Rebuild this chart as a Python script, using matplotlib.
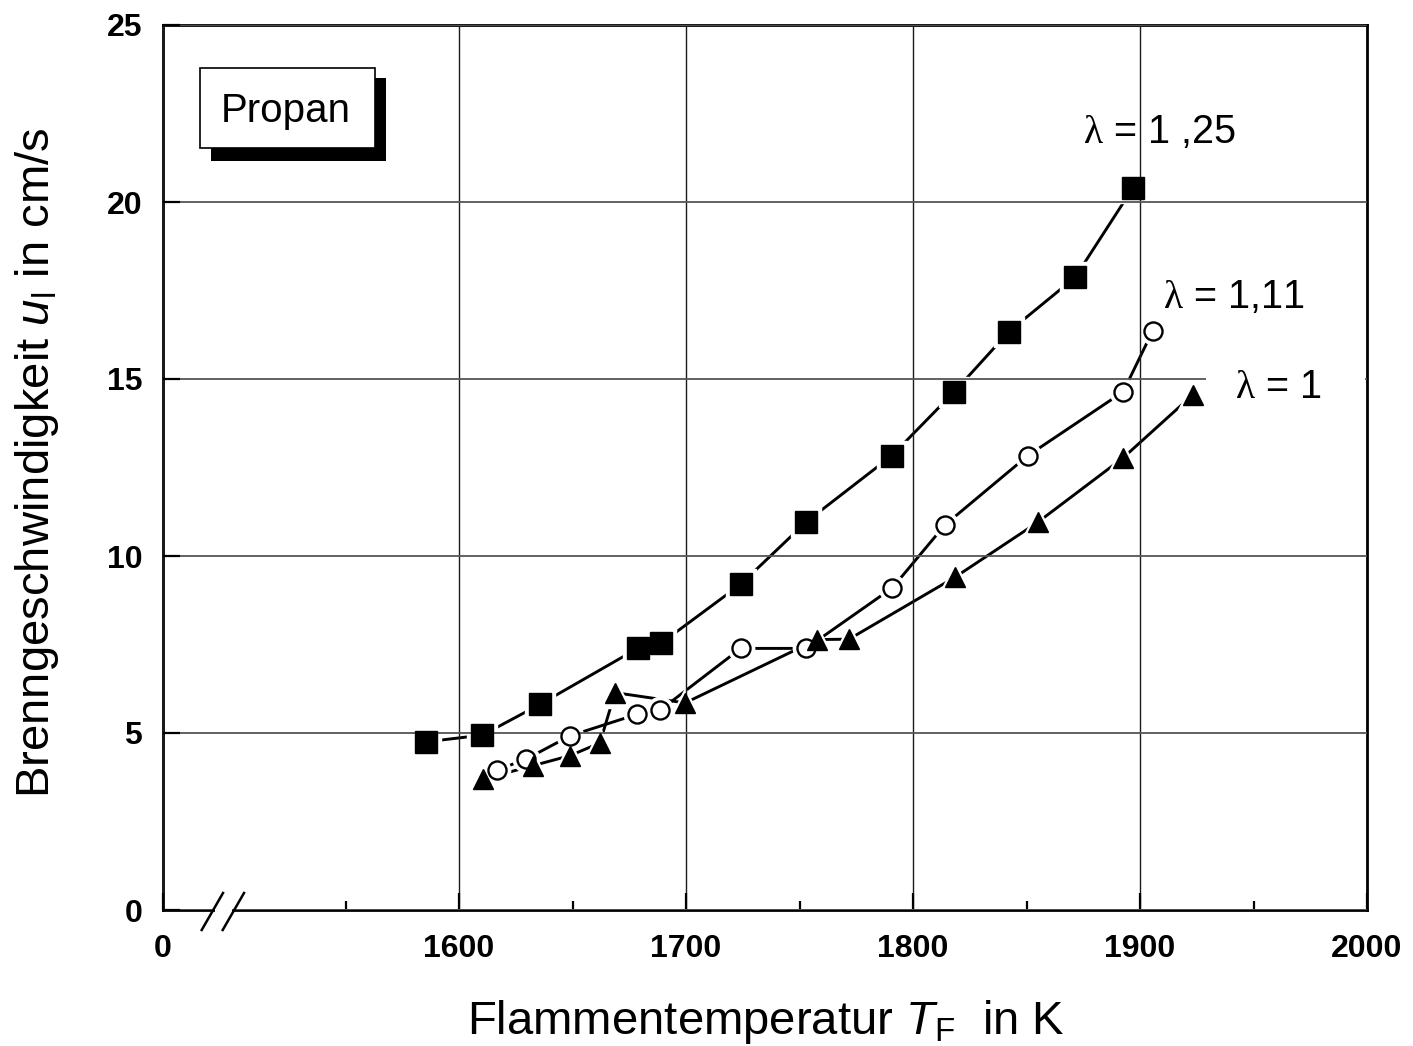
import matplotlib
matplotlib.use("Agg")
import matplotlib.pyplot as plt
from matplotlib.patches import Rectangle
from matplotlib.lines import Line2D

plt.rcParams['font.family'] = ['Liberation Sans', 'DejaVu Sans']
plt.rcParams['mathtext.fontset'] = 'custom'
plt.rcParams['mathtext.rm'] = 'Liberation Serif'
plt.rcParams['mathtext.it'] = 'Liberation Sans:italic'
plt.rcParams['mathtext.sf'] = 'Liberation Sans'

# Data (T in K, u in cm/s)
t_125 = [1585.5, 1610.3, 1635.7, 1678.7, 1688.9, 1724.1, 1752.9, 1790.6, 1818.2, 1842.3, 1871.4, 1896.8]
u_125 = [4.75, 4.94, 5.81, 7.39, 7.53, 9.20, 10.96, 12.83, 14.64, 16.34, 17.87, 20.39]

t_111 = [1616.6, 1629.5, 1648.9, 1678.5, 1688.7, 1724.1, 1752.9, 1790.9, 1814.1, 1850.5, 1892.6, 1905.6]
u_111 = [3.95, 4.26, 4.92, 5.53, 5.65, 7.39, 7.39, 9.10, 10.88, 12.83, 14.64, 16.36]

t_100 = [1610.4, 1632.7, 1648.9, 1662.1, 1668.7, 1699.6, 1757.8, 1771.8, 1818.5, 1854.9, 1892.5, 1923.2]
u_100 = [3.69, 4.08, 4.36, 4.72, 6.14, 5.85, 7.64, 7.65, 9.40, 10.95, 12.77, 14.55]

x_start = 1469.6  # position of the "0" at the broken axis
x_major = [x_start, 1600, 1700, 1800, 1900, 2000]
x_major_labels = ['0', '1600', '1700', '1800', '1900', '2000']
x_minor = [1550, 1650, 1750, 1850, 1950]
y_major = [0, 5, 10, 15, 20, 25]

W, H = 1413, 1046
fig = plt.figure(figsize=(W / 100, H / 100), dpi=100)
ax = fig.add_axes([163 / W, 1 - 910 / H, (1367 - 163) / W, (910 - 25) / H])


def fx(px):
    return px / W


def fy(py):
    return 1 - py / H


series = [
    (t_125, u_125, dict(marker='s', ms=16, mfc='black', mec='black', mew=1)),
    (t_111, u_111, dict(marker='o', ms=13, mfc='white', mec='black', mew=1.7)),
    (t_100, u_100, dict(marker='^', ms=15, mfc='black', mec='black', mew=1)),
]

for t, u, st in series:
    ax.plot(t, u, color='black', lw=2.1, zorder=2.1)
for t, u, st in series:
    # white halo so the connecting lines stop short of the markers
    ax.plot(t, u, ls='none', marker=st['marker'], ms=st['ms'] + 6,
            mfc='white', mec='white', zorder=2.2)
for t, u, st in series:
    ax.plot(t, u, ls='none', zorder=4, **st)

ax.set_xlim(x_start, 2000)
ax.set_ylim(0, 25)
ax.set_xticks(x_major)
ax.set_xticklabels(x_major_labels)
ax.set_xticks(x_minor, minor=True)
ax.set_yticks(y_major)

ax.set_axisbelow(False)
ax.xaxis.grid(True, which='major', color='#1a1a1a', lw=1.0)
ax.yaxis.grid(True, which='major', color='#555555', lw=1.3)

ax.tick_params(axis='both', which='major', direction='in', length=12, width=1.6,
               labelsize=23, pad=15)
ax.tick_params(axis='x', which='major', pad=17)
ax.tick_params(axis='x', which='minor', direction='in', length=6.5, width=1.6)
for lab in ax.get_xticklabels() + ax.get_yticklabels():
    lab.set_fontweight('bold')
for sp in ax.spines.values():
    sp.set_linewidth(2.0)

# the 15 grid line stops short of the "lambda = 1" label
ax.add_patch(Rectangle((1929, 14.8), 1998.9 - 1929, 0.4, fc='white', ec='none', zorder=2.7))

# series labels
ax.text(1874.9, 21.67, r'$\mathrm{\lambda}$ = 1 ,25', fontsize=28.5, va='baseline', ha='left')
ax.text(1910.1, 17.0, r'$\mathrm{\lambda}$ = 1,11', fontsize=28.5, va='baseline', ha='left')
ax.text(1941.9, 14.46, r'$\mathrm{\lambda}$ = 1', fontsize=28.5, va='baseline', ha='left')

# Propan box with shadow
fig.add_artist(Rectangle((fx(211), fy(161)), fx(386) - fx(211), fy(78) - fy(161),
                         transform=fig.transFigure, fc='black', ec='none', zorder=5))
fig.add_artist(Rectangle((fx(200), fy(148)), fx(375) - fx(200), fy(68) - fy(148),
                         transform=fig.transFigure, fc='white', ec='black', lw=1.2, zorder=6))
fig.text(fx(286), fy(122), 'Propan', fontsize=29, ha='center', va='baseline', zorder=7)

# axis break marks
fig.add_artist(Rectangle((fx(215), fy(914)), fx(232) - fx(215), fy(906) - fy(914),
                         transform=fig.transFigure, fc='white', ec='none', zorder=5))
for x0 in (201.7, 222.7):
    fig.add_artist(Line2D([fx(x0), fx(x0 + 21.3)], [fy(930), fy(893)],
                          transform=fig.transFigure, color='black', lw=1.8, zorder=6))

# axis labels
fig.text(fx(766), fy(1034), r'Flammentemperatur $T_{\mathsf{F}}$  in K',
         fontsize=34, ha='center', va='baseline')
fig.text(fx(37), fy(463), r'Brenngeschwindigkeit $u_{\mathsf{l}}$ in cm/s',
         fontsize=34, rotation=90, ha='center', va='center')

fig.savefig('out.png', dpi=100)
